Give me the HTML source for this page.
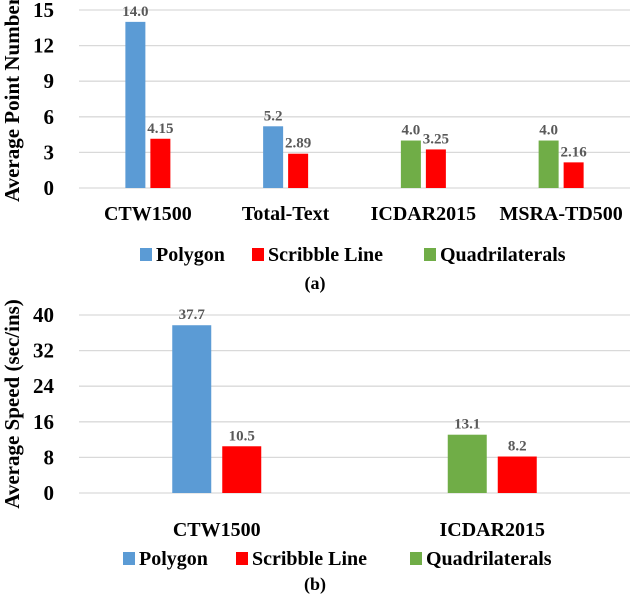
<!DOCTYPE html>
<html><head><meta charset="utf-8"><style>
body{margin:0;background:#fff}
text{font-family:"Liberation Serif","Times New Roman",serif;font-weight:bold}
</style></head><body>
<svg id="s" width="630" height="596" xmlns="http://www.w3.org/2000/svg" font-family="'Liberation Serif', serif" font-weight="bold"></svg>
<script>
const catsA=["CTW1500","Total-Text","ICDAR2015","MSRA-TD500"];
const firstA=[14.0,5.2,4.0,4.0];
const firstTypeA=["poly","poly","quad","quad"];
const firstLblA=["14.0","5.2","4.0","4.0"];
const scribA=[4.15,2.89,3.25,2.16];
const scribLblA=["4.15","2.89","3.25","2.16"];
const ticksA=[0,3,6,9,12,15];
const catsB=["CTW1500","ICDAR2015"];
const firstB=[37.7,13.1];
const firstTypeB=["poly","quad"];
const firstLblB=["37.7","13.1"];
const scribB=[10.5,8.2];
const scribLblB=["10.5","8.2"];
const ticksB=[0,8,16,24,32,40];
const C={poly:"#5b9bd5",scrib:"#ff0000",quad:"#70ad47"};
const svg=document.getElementById('s');
const NS="http://www.w3.org/2000/svg";
function el(t,a,txt){const e=document.createElementNS(NS,t);for(const k in a)e.setAttribute(k,a[k]);if(txt!==undefined){e.textContent=txt;e.setAttribute('font-family','Liberation Serif, serif');e.setAttribute('font-weight','bold');}svg.appendChild(e);return e;}
function chart(o){
 const x0=79,x1=630,band=(x1-x0)/o.cats.length;
 const y=v=>o.yb-(v/o.max)*(o.yb-o.yt);
 o.ticks.forEach(t=>{
  const g=el('line',{x1:x0,x2:x1,y1:y(t),y2:y(t),stroke:'#d9d9d9','stroke-width':1.3});
  
  const l=el('text',{x:54,y:y(t)+7,'text-anchor':'end','font-size':21,fill:'#000'},String(t));
  
 });
 const yt=el('text',{transform:`translate(19,${(o.yt+o.yb)/2}) rotate(-90)`,'text-anchor':'middle','font-size':21},o.title);
 
 o.cats.forEach((c,i)=>{
  const cx=x0+band*(i+0.5);
  const b1=el('rect',{x:cx-o.gap/2-o.bw,y:y(o.first[i]),width:o.bw,height:y(0)-y(o.first[i]),fill:C[o.ft[i]]});
  
  const b2=el('rect',{x:cx+o.gap/2,y:y(o.scrib[i]),width:o.bw,height:y(0)-y(o.scrib[i]),fill:C.scrib});
  
  const v1=el('text',{x:cx-o.gap/2-o.bw/2,y:y(o.first[i])-6,'text-anchor':'middle','font-size':15,fill:'#595959'},o.fl[i]);
  
  const v2=el('text',{x:cx+o.gap/2+o.bw/2,y:y(o.scrib[i])-6,'text-anchor':'middle','font-size':15,fill:'#595959'},o.sl[i]);
  
  const cl=el('text',{x:cx,y:o.catY,'text-anchor':'middle','font-size':20},c);
  
 });
 o.leg.forEach(([key,label,sx])=>{
  const r=el('rect',{x:sx,y:o.legY-13,width:12,height:13,fill:C[key]});
  
  const t=el('text',{x:sx+16,y:o.legY,'font-size':20},label);
  
 });
 const cap=el('text',{x:315,y:o.capY,'text-anchor':'middle','font-size':18},o.cap);
 
}
chart({p:'a',cats:catsA,first:firstA,ft:firstTypeA,fl:firstLblA,scrib:scribA,sl:scribLblA,ticks:ticksA,max:15,yt:10,yb:188,bw:20,gap:5,catY:220,title:'Average Point Number',legY:261,capY:289,cap:'(a)',leg:[['poly','Polygon',140],['scrib','Scribble Line',252],['quad','Quadrilaterals',424]]});
chart({p:'b',cats:catsB,first:firstB,ft:firstTypeB,fl:firstLblB,scrib:scribB,sl:scribLblB,ticks:ticksB,max:40,yt:315,yb:493,bw:39,gap:11,catY:536,title:'Average Speed (sec/ins)',legY:565,capY:590,cap:'(b)',leg:[['poly','Polygon',123],['scrib','Scribble Line',236],['quad','Quadrilaterals',410]]});
</script>
</body></html>
